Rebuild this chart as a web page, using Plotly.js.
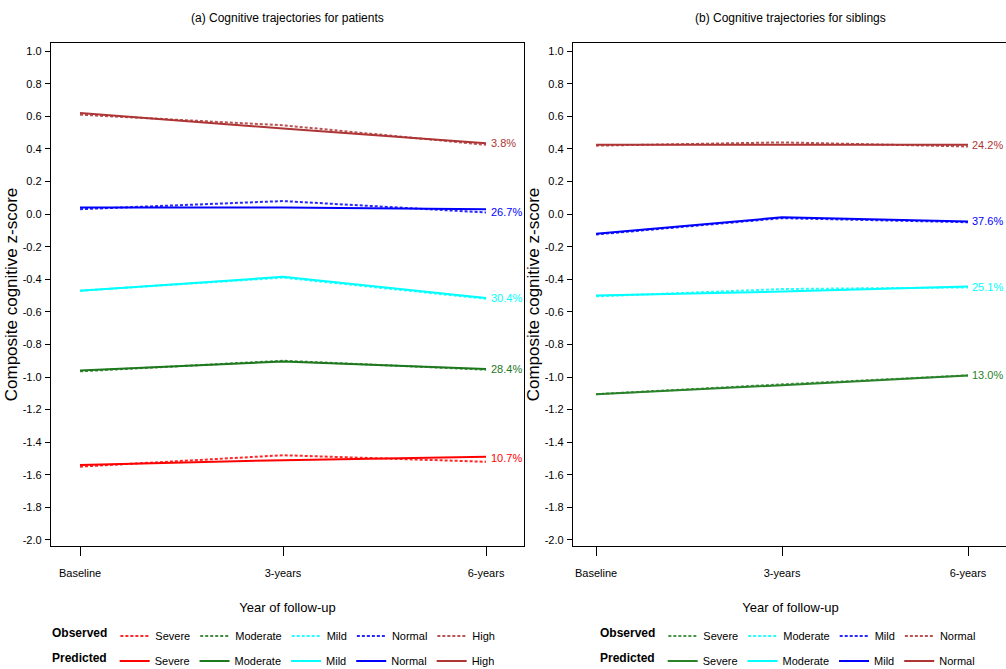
<!DOCTYPE html>
<html>
<head>
<meta charset="utf-8">
<script src="https://cdn.plot.ly/plotly-3.0.1.min.js"></script>
<style>
html,body{margin:0;padding:0;overflow:hidden;background:#fff;}
#chart{width:1012px;height:669px;}
</style>
</head>
<body>
<div id="chart"></div>
<script>
// ---- data ----
const categories = ["Baseline", "3-years", "6-years"];

// Panel (a): patients
const patientGroups = ["Severe", "Moderate", "Mild", "Normal", "High"];
const patientObserved = {
  Severe:   [-1.55, -1.48, -1.52],
  Moderate: [-0.965, -0.90, -0.955],
  Mild:     [-0.47, -0.39, -0.52],
  Normal:   [0.03, 0.08, 0.01],
  High:     [0.61, 0.545, 0.425]
};
const patientPredicted = {
  Severe:   [-1.54, -1.51, -1.49],
  Moderate: [-0.96, -0.905, -0.95],
  Mild:     [-0.47, -0.385, -0.515],
  Normal:   [0.04, 0.04, 0.03],
  High:     [0.62, 0.525, 0.435]
};
const patientPercents = ["10.7%", "28.4%", "30.4%", "26.7%", "3.8%"];
const patientLabelY = [-1.495, -0.95, -0.515, 0.015, 0.435];

// Panel (b): siblings
const siblingGroups = ["Severe", "Moderate", "Mild", "Normal"];
const siblingObserved = {
  Severe:   [-1.105, -1.045, -0.99],
  Moderate: [-0.505, -0.46, -0.45],
  Mild:     [-0.125, -0.025, -0.05],
  Normal:   [0.42, 0.44, 0.415]
};
const siblingPredicted = {
  Severe:   [-1.105, -1.05, -0.99],
  Moderate: [-0.50, -0.475, -0.445],
  Mild:     [-0.12, -0.02, -0.045],
  Normal:   [0.425, 0.425, 0.425]
};
const siblingPercents = ["13.0%", "25.1%", "37.6%", "24.2%"];
const siblingLabelY = [-0.99, -0.445, -0.045, 0.425];

const yTickVals = [1.0,0.8,0.6,0.4,0.2,0.0,-0.2,-0.4,-0.6,-0.8,-1.0,-1.2,-1.4,-1.6,-1.8,-2.0];
const yTickText = ["1.0","0.8","0.6","0.4","0.2","0.0","-0.2","-0.4","-0.6","-0.8","-1.0","-1.2","-1.4","-1.6","-1.8","-2.0"];

// ---- styles ----
const patientColors = {Severe:"#FF0000", Moderate:"#1E781E", Mild:"#00FFFF", Normal:"#0000FF", High:"#AE3535"};
const siblingColors = {Severe:"#2A822A", Moderate:"#00FFFF", Mild:"#0000FF", Normal:"#AE3535"};
const FONT = "'Liberation Sans', Arial, sans-serif";

const traces = [];
function addPanel(groups, pred, obs, colors, xa, ya, legObs, legPred) {
  groups.forEach(g => {
    traces.push({
      type:"scatter", mode:"lines", x:categories, y:pred[g], name:g,
      xaxis:xa, yaxis:ya, legend:legPred,
      line:{color:colors[g], width:2, dash:"solid"}, hoverinfo:"skip"
    });
  });
  groups.forEach(g => {
    traces.push({
      type:"scatter", mode:"lines", x:categories, y:obs[g], name:g,
      xaxis:xa, yaxis:ya, legend:legObs, opacity:0.85,
      line:{color:colors[g], width:2, dash:"3px,2px"}, hoverinfo:"skip"
    });
  });
}
addPanel(patientGroups, patientPredicted, patientObserved, patientColors, "x", "y", "legend", "legend2");
addPanel(siblingGroups, siblingPredicted, siblingObserved, siblingColors, "x2", "y2", "legend3", "legend4");

const annotations = [];
patientGroups.forEach((g,i) => annotations.push({
  xref:"x", yref:"y", x:2, y:patientLabelY[i], text:patientPercents[i],
  showarrow:false, xanchor:"left", xshift:3,
  font:{family:FONT, size:11, color:patientColors[g]}
}));
siblingGroups.forEach((g,i) => annotations.push({
  xref:"x2", yref:"y2", x:2, y:siblingLabelY[i], text:siblingPercents[i],
  showarrow:false, xanchor:"left", xshift:2,
  font:{family:FONT, size:11, color:siblingColors[g]}
}));
annotations.push({xref:"x domain", yref:"paper", x:0.5, y:1, yshift:25, yanchor:"middle",
  text:"(a) Cognitive trajectories for patients", showarrow:false,
  font:{family:FONT, size:12, color:"#000"}});
annotations.push({xref:"x2 domain", yref:"paper", x:0.5, y:1, yshift:25, yanchor:"middle",
  text:"(b) Cognitive trajectories for siblings", showarrow:false,
  font:{family:FONT, size:12, color:"#000"}});

const W = 1012, H = 669;
const mL = 51, mR = W - 1008, mT = 43, mB = H - 546;
const pw = W - mL - mR;
const px = v => (v - mL) / pw;
const py = v => (H - mB - v) / (H - mT - mB);

function xAxis(dom, rng) {
  return {
    domain:dom, type:"category", range:rng,
    showline:true, mirror:true, linecolor:"#000", linewidth:1.2,
    ticks:"outside", ticklen:9, tickcolor:"#000", tickwidth:1,
    ticklabelstandoff:8,
    showgrid:false, zeroline:false, fixedrange:true,
    tickfont:{family:FONT, size:11, color:"#000"},
    title:{text:"Year of follow-up", standoff:24, font:{family:FONT, size:13, color:"#000"}}
  };
}
function yAxis(anchor) {
  return {
    anchor:anchor, range:[-2.037, 1.05],
    tickvals:yTickVals, ticktext:yTickText,
    showline:true, mirror:true, linecolor:"#000", linewidth:1.2,
    ticks:"outside", ticklen:5, tickcolor:"#000", tickwidth:1,
    ticklabelstandoff:1,
    showgrid:false, zeroline:false, fixedrange:true,
    tickfont:{family:FONT, size:11, color:"#000"},
    title:{text:"Composite cognitive z-score", standoff:0, font:{family:FONT, size:17, color:"#000"}}
  };
}
function legend(x, y, title) {
  return {
    orientation:"h", x:x, y:y, xanchor:"left", yanchor:"middle",
    bgcolor:"rgba(0,0,0,0)", borderwidth:0, itemwidth:30,
    font:{family:FONT, size:11, color:"#000"},
    title:{text:"<b>"+title+"</b>", side:"left", font:{family:FONT, size:12, color:"#000"}},
    itemclick:false, itemdoubleclick:false
  };
}

const layout = {
  width:W, height:H,
  margin:{l:mL, r:mR, t:mT, b:mB, autoexpand:false},
  paper_bgcolor:"#fff", plot_bgcolor:"#fff",
  showlegend:true,
  xaxis:xAxis([0, px(524)], [-0.143, 2.187]),
  yaxis:yAxis("x"),
  xaxis2:xAxis([px(573), 1], [-0.124, 2.215]),
  yaxis2:yAxis("x2"),
  legend:legend(px(50), py(636), "Observed"),
  legend2:legend(px(50), py(661), "Predicted"),
  legend3:legend(px(598), py(636), "Observed"),
  legend4:legend(px(598), py(661), "Predicted"),
  annotations:annotations
};

Plotly.newPlot("chart", traces, layout, {staticPlot:true, displayModeBar:false});
</script>
</body>
</html>
